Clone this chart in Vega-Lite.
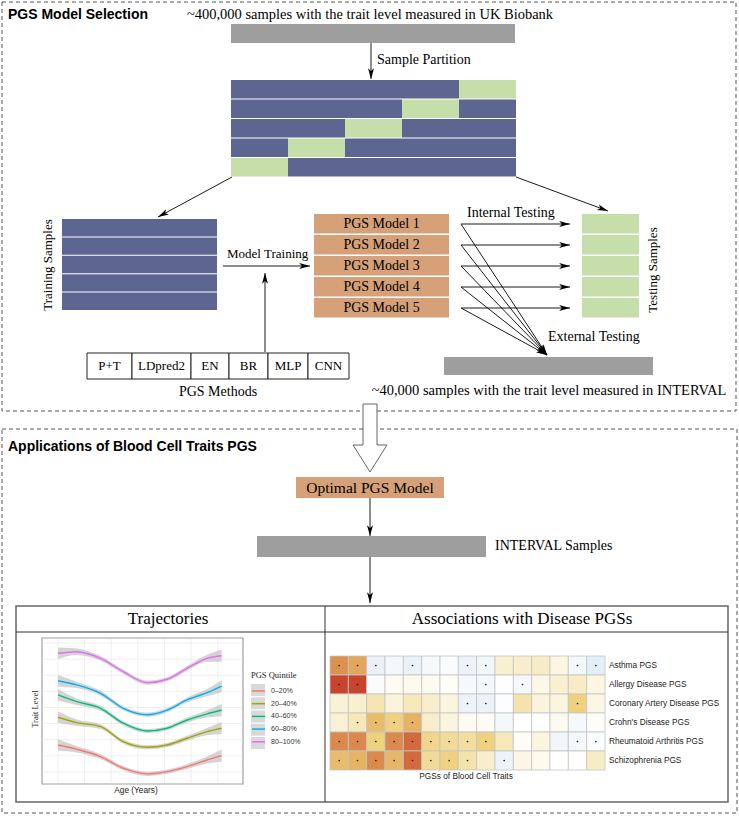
{
"$schema":"https://vega.github.io/schema/vega-lite/v6.json",
"width":739,"height":817,"padding":0,"autosize":{"type":"none"},
"background":"white",
"config":{"view":{"stroke":null}},
"datasets":{
"dash":[{"x":2,"x2":736,"y":2,"y2":411},{"x":2,"x2":737,"y":429,"y2":813}],
"box":[
{"x":231,"x2":515,"y":24,"y2":43,"k":"grey"},
{"x":444,"x2":653,"y":357,"y2":375,"k":"grey"},
{"x":257,"x2":486,"y":536,"y2":557,"k":"grey"},
{"x":231,"x2":459,"y":80,"y2":98.5,"k":"navy"},
{"x":459,"x2":516,"y":80,"y2":98.5,"k":"green"},
{"x":231,"x2":402,"y":99.5,"y2":118,"k":"navy"},
{"x":402,"x2":459,"y":99.5,"y2":118,"k":"green"},
{"x":459,"x2":516,"y":99.5,"y2":118,"k":"navy"},
{"x":231,"x2":345,"y":119,"y2":137.5,"k":"navy"},
{"x":345,"x2":402,"y":119,"y2":137.5,"k":"green"},
{"x":402,"x2":516,"y":119,"y2":137.5,"k":"navy"},
{"x":231,"x2":288,"y":138.5,"y2":157,"k":"navy"},
{"x":288,"x2":345,"y":138.5,"y2":157,"k":"green"},
{"x":345,"x2":516,"y":138.5,"y2":157,"k":"navy"},
{"x":231,"x2":288,"y":158,"y2":176.5,"k":"green"},
{"x":288,"x2":516,"y":158,"y2":176.5,"k":"navy"},
{"x":62,"x2":217,"y":219,"y2":236.4,"k":"navy"},
{"x":62,"x2":217,"y":237.4,"y2":254.8,"k":"navy"},
{"x":62,"x2":217,"y":255.8,"y2":273.2,"k":"navy"},
{"x":62,"x2":217,"y":274.2,"y2":291.6,"k":"navy"},
{"x":62,"x2":217,"y":292.6,"y2":310,"k":"navy"},
{"x":314,"x2":449,"y":214,"y2":233.5,"k":"tan"},
{"x":314,"x2":449,"y":235,"y2":254.5,"k":"tan"},
{"x":314,"x2":449,"y":256,"y2":275.5,"k":"tan"},
{"x":314,"x2":449,"y":277,"y2":296.5,"k":"tan"},
{"x":314,"x2":449,"y":298,"y2":317.5,"k":"tan"},
{"x":582,"x2":639,"y":214,"y2":233.5,"k":"green"},
{"x":582,"x2":639,"y":235,"y2":254.5,"k":"green"},
{"x":582,"x2":639,"y":256,"y2":275.5,"k":"green"},
{"x":582,"x2":639,"y":277,"y2":296.5,"k":"green"},
{"x":582,"x2":639,"y":298,"y2":317.5,"k":"green"},
{"x":296,"x2":444,"y":477,"y2":498,"k":"tan"}
],
"keys":[
{"x":251,"x2":265,"y":684,"y2":696},
{"x":251,"x2":265,"y":697.3,"y2":709.3},
{"x":251,"x2":265,"y":710.5,"y2":722.5},
{"x":251,"x2":265,"y":723.7,"y2":735.7},
{"x":251,"x2":265,"y":737,"y2":749}
],
"cells":[
{"x":87,"x2":132,"y":353,"y2":379},{"x":132,"x2":191,"y":353,"y2":379},{"x":191,"x2":229,"y":353,"y2":379},
{"x":229,"x2":268,"y":353,"y2":379},{"x":268,"x2":308,"y":353,"y2":379},{"x":308,"x2":349,"y":353,"y2":379}
],
"panel":[{"x":16,"x2":728,"y":606,"y2":802}],
"tpanel":[{"x":42,"x2":243,"y":638,"y2":784}],
"lines":[{"x":16,"y":632,"x2":728,"y2":632},{"x":325,"y":606,"x2":325,"y2":802}],
"arr":[
{"x":371,"y":43,"x2":371,"y2":79},
{"x":232,"y":177,"x2":158,"y2":217},
{"x":516,"y":177,"x2":608,"y2":211},
{"x":223,"y":266,"x2":310,"y2":266},
{"x":265,"y":352,"x2":265,"y2":273},
{"x":461,"y":224,"x2":570,"y2":224},
{"x":461,"y":245,"x2":570,"y2":245},
{"x":461,"y":266,"x2":570,"y2":266},
{"x":461,"y":287,"x2":570,"y2":287},
{"x":461,"y":308,"x2":570,"y2":308},
{"x":461,"y":224,"x2":547,"y2":355},
{"x":461,"y":245,"x2":547,"y2":355},
{"x":461,"y":266,"x2":547,"y2":355},
{"x":461,"y":287,"x2":547,"y2":355},
{"x":461,"y":308,"x2":547,"y2":355},
{"x":370,"y":498,"x2":370,"y2":536},
{"x":370,"y":557,"x2":370,"y2":603}
],
"blk":[
{"x":363,"y":404,"o":0},{"x":377,"y":404,"o":1},{"x":377,"y":445,"o":2},{"x":387,"y":445,"o":3},
{"x":370,"y":472,"o":4},{"x":353,"y":445,"o":5},{"x":363,"y":445,"o":6},{"x":363,"y":404,"o":7}
],
"txt":[
{"x":8,"y":15,"text":"PGS Model Selection","s":"title"},
{"x":8,"y":447,"text":"Applications of Blood Cell Traits PGS","s":"title"},
{"x":370,"y":15,"text":"~400,000 samples with the trait level measured in UK Biobank","s":"cap"},
{"x":549,"y":391,"text":"~40,000 samples with the trait level measured in INTERVAL","s":"cap"},
{"x":377,"y":60,"text":"Sample Partition","s":"l14"},
{"x":467,"y":213,"text":"Internal Testing","s":"l14"},
{"x":548,"y":337,"text":"External Testing","s":"l14"},
{"x":495,"y":546,"text":"INTERVAL Samples","s":"l14"},
{"x":227,"y":254,"text":"Model Training","s":"mt"},
{"x":381.5,"y":224,"text":"PGS Model 1","s":"c14"},
{"x":381.5,"y":245,"text":"PGS Model 2","s":"c14"},
{"x":381.5,"y":266,"text":"PGS Model 3","s":"c14"},
{"x":381.5,"y":287,"text":"PGS Model 4","s":"c14"},
{"x":381.5,"y":308,"text":"PGS Model 5","s":"c14"},
{"x":218,"y":392,"text":"PGS Methods","s":"c14"},
{"x":48,"y":265,"text":"Training Samples","s":"rot"},
{"x":653,"y":270,"text":"Testing Samples","s":"rot"},
{"x":109.5,"y":366,"text":"P+T","s":"cell"},
{"x":161.5,"y":366,"text":"LDpred2","s":"cell"},
{"x":210,"y":366,"text":"EN","s":"cell"},
{"x":248.5,"y":366,"text":"BR","s":"cell"},
{"x":288,"y":366,"text":"MLP","s":"cell"},
{"x":328.5,"y":366,"text":"CNN","s":"cell"},
{"x":370,"y":488,"text":"Optimal PGS Model","s":"opt"},
{"x":168,"y":619,"text":"Trajectories","s":"head"},
{"x":522,"y":619,"text":"Associations with Disease PGSs","s":"head"},
{"x":609,"y":665.5,"text":"Asthma PGS","s":"hl"},
{"x":609,"y":684.5,"text":"Allergy Disease PGS","s":"hl"},
{"x":609,"y":703.5,"text":"Coronary Artery Disease PGS","s":"hl"},
{"x":609,"y":722.5,"text":"Crohn's Disease PGS","s":"hl"},
{"x":609,"y":741.5,"text":"Rheumatoid Arthritis PGS","s":"hl"},
{"x":609,"y":760.5,"text":"Schizophrenia PGS","s":"hl"},
{"x":466,"y":776.5,"text":"PGSs of Blood Cell Traits","s":"hc"},
{"x":136,"y":791,"text":"Age (Years)","s":"hc"},
{"x":35,"y":709,"text":"Trait Level","s":"tl"}
],
"gx":[{"age":20},{"age":30},{"age":40},{"age":50},{"age":60},{"age":70},{"age":80}],
"gy":[{"level":1},{"level":2},{"level":3},{"level":4},{"level":5},{"level":6},{"level":7},{"level":8},{"level":9}],
"traj":[
{"q":"80–100%","age":20,"level":8.36,"lo":8.00,"hi":8.72},
{"q":"80–100%","age":27,"level":8.46,"lo":8.26,"hi":8.66},
{"q":"80–100%","age":36,"level":8.05,"lo":7.90,"hi":8.20},
{"q":"80–100%","age":44.5,"level":7.22,"lo":7.09,"hi":7.35},
{"q":"80–100%","age":53.5,"level":6.54,"lo":6.41,"hi":6.67},
{"q":"80–100%","age":61,"level":6.75,"lo":6.62,"hi":6.88},
{"q":"80–100%","age":68.5,"level":7.43,"lo":7.28,"hi":7.58},
{"q":"80–100%","age":76,"level":8.05,"lo":7.83,"hi":8.27},
{"q":"80–100%","age":81.5,"level":8.21,"lo":7.83,"hi":8.59},
{"q":"60–80%","age":20,"level":6.66,"lo":6.30,"hi":7.02},
{"q":"60–80%","age":27,"level":6.40,"lo":6.20,"hi":6.60},
{"q":"60–80%","age":36,"level":5.88,"lo":5.73,"hi":6.03},
{"q":"60–80%","age":44.5,"level":4.95,"lo":4.82,"hi":5.08},
{"q":"60–80%","age":53.5,"level":4.55,"lo":4.42,"hi":4.68},
{"q":"60–80%","age":61,"level":4.84,"lo":4.71,"hi":4.97},
{"q":"60–80%","age":68.5,"level":5.47,"lo":5.32,"hi":5.62},
{"q":"60–80%","age":76,"level":5.92,"lo":5.70,"hi":6.14},
{"q":"60–80%","age":81.5,"level":6.33,"lo":5.95,"hi":6.71},
{"q":"40–60%","age":20,"level":5.78,"lo":5.42,"hi":6.14},
{"q":"40–60%","age":27,"level":5.36,"lo":5.16,"hi":5.56},
{"q":"40–60%","age":36,"level":4.95,"lo":4.80,"hi":5.10},
{"q":"40–60%","age":44.5,"level":4.02,"lo":3.89,"hi":4.15},
{"q":"40–60%","age":53.5,"level":3.54,"lo":3.41,"hi":3.67},
{"q":"40–60%","age":61,"level":3.71,"lo":3.58,"hi":3.84},
{"q":"40–60%","age":68.5,"level":4.22,"lo":4.07,"hi":4.37},
{"q":"40–60%","age":76,"level":4.60,"lo":4.38,"hi":4.82},
{"q":"40–60%","age":81.5,"level":4.84,"lo":4.46,"hi":5.22},
{"q":"20–40%","age":20,"level":4.39,"lo":4.03,"hi":4.75},
{"q":"20–40%","age":27,"level":4.06,"lo":3.86,"hi":4.26},
{"q":"20–40%","age":36,"level":3.81,"lo":3.66,"hi":3.96},
{"q":"20–40%","age":44.5,"level":2.88,"lo":2.75,"hi":3.01},
{"q":"20–40%","age":53.5,"level":2.53,"lo":2.40,"hi":2.66},
{"q":"20–40%","age":61,"level":2.67,"lo":2.54,"hi":2.80},
{"q":"20–40%","age":68.5,"level":3.09,"lo":2.94,"hi":3.24},
{"q":"20–40%","age":76,"level":3.50,"lo":3.28,"hi":3.72},
{"q":"20–40%","age":81.5,"level":3.71,"lo":3.33,"hi":4.09},
{"q":"0–20%","age":20,"level":2.67,"lo":2.31,"hi":3.03},
{"q":"0–20%","age":27,"level":2.41,"lo":2.21,"hi":2.61},
{"q":"0–20%","age":36,"level":1.95,"lo":1.80,"hi":2.10},
{"q":"0–20%","age":44.5,"level":1.23,"lo":1.10,"hi":1.36},
{"q":"0–20%","age":53.5,"level":0.88,"lo":0.75,"hi":1.01},
{"q":"0–20%","age":61,"level":1.02,"lo":0.89,"hi":1.15},
{"q":"0–20%","age":68.5,"level":1.33,"lo":1.18,"hi":1.48},
{"q":"0–20%","age":76,"level":1.74,"lo":1.52,"hi":1.96},
{"q":"0–20%","age":81.5,"level":2.01,"lo":1.63,"hi":2.39}
],
"heat":[
{"t":1,"d":"Asthma PGS","v":0.75,"s":1},{"t":2,"d":"Asthma PGS","v":0.65,"s":1},{"t":3,"d":"Asthma PGS","v":-0.35,"s":1},{"t":4,"d":"Asthma PGS","v":-0.2,"s":0},{"t":5,"d":"Asthma PGS","v":-0.35,"s":1},{"t":6,"d":"Asthma PGS","v":-0.15,"s":0},{"t":7,"d":"Asthma PGS","v":-0.1,"s":0},{"t":8,"d":"Asthma PGS","v":-0.3,"s":1},{"t":9,"d":"Asthma PGS","v":-0.25,"s":1},{"t":10,"d":"Asthma PGS","v":0.2,"s":0},{"t":11,"d":"Asthma PGS","v":0.22,"s":0},{"t":12,"d":"Asthma PGS","v":0.25,"s":0},{"t":13,"d":"Asthma PGS","v":0.12,"s":0},{"t":14,"d":"Asthma PGS","v":-0.2,"s":1},{"t":15,"d":"Asthma PGS","v":-0.45,"s":1},
{"t":1,"d":"Allergy Disease PGS","v":1.0,"s":1},{"t":2,"d":"Allergy Disease PGS","v":1.0,"s":1},{"t":3,"d":"Allergy Disease PGS","v":-0.1,"s":0},{"t":4,"d":"Allergy Disease PGS","v":0.05,"s":0},{"t":5,"d":"Allergy Disease PGS","v":0.08,"s":0},{"t":6,"d":"Allergy Disease PGS","v":0.06,"s":0},{"t":7,"d":"Allergy Disease PGS","v":0.03,"s":0},{"t":8,"d":"Allergy Disease PGS","v":-0.15,"s":0},{"t":9,"d":"Allergy Disease PGS","v":-0.2,"s":1},{"t":10,"d":"Allergy Disease PGS","v":0,"s":0},{"t":11,"d":"Allergy Disease PGS","v":-0.15,"s":1},{"t":12,"d":"Allergy Disease PGS","v":0.1,"s":0},{"t":13,"d":"Allergy Disease PGS","v":0.2,"s":0},{"t":14,"d":"Allergy Disease PGS","v":0.25,"s":0},{"t":15,"d":"Allergy Disease PGS","v":0.12,"s":0},
{"t":1,"d":"Coronary Artery Disease PGS","v":0.17,"s":0},{"t":2,"d":"Coronary Artery Disease PGS","v":0.2,"s":0},{"t":3,"d":"Coronary Artery Disease PGS","v":0.3,"s":0},{"t":4,"d":"Coronary Artery Disease PGS","v":0.15,"s":0},{"t":5,"d":"Coronary Artery Disease PGS","v":0.28,"s":0},{"t":6,"d":"Coronary Artery Disease PGS","v":0.22,"s":0},{"t":7,"d":"Coronary Artery Disease PGS","v":0.13,"s":0},{"t":8,"d":"Coronary Artery Disease PGS","v":-0.3,"s":1},{"t":9,"d":"Coronary Artery Disease PGS","v":-0.3,"s":1},{"t":10,"d":"Coronary Artery Disease PGS","v":-0.05,"s":0},{"t":11,"d":"Coronary Artery Disease PGS","v":0.32,"s":0},{"t":12,"d":"Coronary Artery Disease PGS","v":0.15,"s":0},{"t":13,"d":"Coronary Artery Disease PGS","v":0.14,"s":0},{"t":14,"d":"Coronary Artery Disease PGS","v":0.45,"s":1},{"t":15,"d":"Coronary Artery Disease PGS","v":0.11,"s":0},
{"t":1,"d":"Crohn's Disease PGS","v":0.18,"s":0},{"t":2,"d":"Crohn's Disease PGS","v":0.28,"s":1},{"t":3,"d":"Crohn's Disease PGS","v":0.55,"s":1},{"t":4,"d":"Crohn's Disease PGS","v":0.45,"s":1},{"t":5,"d":"Crohn's Disease PGS","v":0.6,"s":1},{"t":6,"d":"Crohn's Disease PGS","v":0.22,"s":0},{"t":7,"d":"Crohn's Disease PGS","v":0.13,"s":0},{"t":8,"d":"Crohn's Disease PGS","v":0.05,"s":0},{"t":9,"d":"Crohn's Disease PGS","v":0.04,"s":0},{"t":10,"d":"Crohn's Disease PGS","v":-0.2,"s":0},{"t":11,"d":"Crohn's Disease PGS","v":0,"s":0},{"t":12,"d":"Crohn's Disease PGS","v":0,"s":0},{"t":13,"d":"Crohn's Disease PGS","v":0.06,"s":0},{"t":14,"d":"Crohn's Disease PGS","v":-0.15,"s":0},{"t":15,"d":"Crohn's Disease PGS","v":0.03,"s":0},
{"t":1,"d":"Rheumatoid Arthritis PGS","v":0.78,"s":1},{"t":2,"d":"Rheumatoid Arthritis PGS","v":0.78,"s":1},{"t":3,"d":"Rheumatoid Arthritis PGS","v":0.45,"s":1},{"t":4,"d":"Rheumatoid Arthritis PGS","v":0.78,"s":1},{"t":5,"d":"Rheumatoid Arthritis PGS","v":0.88,"s":1},{"t":6,"d":"Rheumatoid Arthritis PGS","v":0.42,"s":1},{"t":7,"d":"Rheumatoid Arthritis PGS","v":0.38,"s":1},{"t":8,"d":"Rheumatoid Arthritis PGS","v":0.36,"s":1},{"t":9,"d":"Rheumatoid Arthritis PGS","v":0.45,"s":1},{"t":10,"d":"Rheumatoid Arthritis PGS","v":0.28,"s":0},{"t":11,"d":"Rheumatoid Arthritis PGS","v":0.03,"s":0},{"t":12,"d":"Rheumatoid Arthritis PGS","v":0.13,"s":0},{"t":13,"d":"Rheumatoid Arthritis PGS","v":-0.25,"s":0},{"t":14,"d":"Rheumatoid Arthritis PGS","v":-0.2,"s":1},{"t":15,"d":"Rheumatoid Arthritis PGS","v":-0.08,"s":1},
{"t":1,"d":"Schizophrenia PGS","v":0.55,"s":1},{"t":2,"d":"Schizophrenia PGS","v":0.6,"s":1},{"t":3,"d":"Schizophrenia PGS","v":0.78,"s":1},{"t":4,"d":"Schizophrenia PGS","v":0.58,"s":1},{"t":5,"d":"Schizophrenia PGS","v":0.88,"s":1},{"t":6,"d":"Schizophrenia PGS","v":0.38,"s":1},{"t":7,"d":"Schizophrenia PGS","v":0.45,"s":1},{"t":8,"d":"Schizophrenia PGS","v":0.32,"s":1},{"t":9,"d":"Schizophrenia PGS","v":0.22,"s":0},{"t":10,"d":"Schizophrenia PGS","v":-0.3,"s":1},{"t":11,"d":"Schizophrenia PGS","v":0.11,"s":0},{"t":12,"d":"Schizophrenia PGS","v":0.08,"s":0},{"t":13,"d":"Schizophrenia PGS","v":0,"s":0},{"t":14,"d":"Schizophrenia PGS","v":0.01,"s":0},{"t":15,"d":"Schizophrenia PGS","v":0.25,"s":0}
]
},
"layer":[
{"layer":[
 {"data":{"name":"dash"},"mark":{"type":"rect","filled":false,"stroke":"#555555","strokeWidth":1,"strokeDash":[4,3]},
  "encoding":{"x":{"field":"x","type":"quantitative","scale":{"domain":[0,739],"range":[0,739],"nice":false,"zero":false},"axis":null},"x2":{"field":"x2"},
   "y":{"field":"y","type":"quantitative","scale":{"domain":[0,817],"range":[0,817],"nice":false,"zero":false},"axis":null},"y2":{"field":"y2"}}},
 {"data":{"name":"box"},"mark":{"type":"rect","strokeWidth":0},
  "encoding":{"x":{"field":"x","type":"quantitative","scale":{"domain":[0,739],"range":[0,739],"nice":false,"zero":false},"axis":null},"x2":{"field":"x2"},
   "y":{"field":"y","type":"quantitative","scale":{"domain":[0,817],"range":[0,817],"nice":false,"zero":false},"axis":null},"y2":{"field":"y2"},
   "color":{"field":"k","type":"nominal","scale":{"domain":["grey","navy","green","tan"],"range":["#9E9E9E","#5D6690","#C6DEA9","#D6A078"]},"legend":null}}},
 {"data":{"name":"cells"},"mark":{"type":"rect","fill":"white","stroke":"#222222","strokeWidth":1},
  "encoding":{"x":{"field":"x","type":"quantitative","scale":{"domain":[0,739],"range":[0,739],"nice":false,"zero":false},"axis":null},"x2":{"field":"x2"},
   "y":{"field":"y","type":"quantitative","scale":{"domain":[0,817],"range":[0,817],"nice":false,"zero":false},"axis":null},"y2":{"field":"y2"}}},
 {"data":{"name":"panel"},"mark":{"type":"rect","filled":false,"stroke":"#666666","strokeWidth":1.5},
  "encoding":{"x":{"field":"x","type":"quantitative","scale":{"domain":[0,739],"range":[0,739],"nice":false,"zero":false},"axis":null},"x2":{"field":"x2"},
   "y":{"field":"y","type":"quantitative","scale":{"domain":[0,817],"range":[0,817],"nice":false,"zero":false},"axis":null},"y2":{"field":"y2"}}},
 {"data":{"name":"tpanel"},"mark":{"type":"rect","fill":"white","stroke":"#A0A0A0","strokeWidth":1.2},
  "encoding":{"x":{"field":"x","type":"quantitative","scale":{"domain":[0,739],"range":[0,739],"nice":false,"zero":false},"axis":null},"x2":{"field":"x2"},
   "y":{"field":"y","type":"quantitative","scale":{"domain":[0,817],"range":[0,817],"nice":false,"zero":false},"axis":null},"y2":{"field":"y2"}}},
 {"data":{"name":"keys"},"mark":{"type":"rect","fill":"#D9D9D9","strokeWidth":0},
  "encoding":{"x":{"field":"x","type":"quantitative","scale":{"domain":[0,739],"range":[0,739],"nice":false,"zero":false},"axis":null},"x2":{"field":"x2"},
   "y":{"field":"y","type":"quantitative","scale":{"domain":[0,817],"range":[0,817],"nice":false,"zero":false},"axis":null},"y2":{"field":"y2"}}},
 {"data":{"name":"lines"},"mark":{"type":"rule","stroke":"#333333","strokeWidth":1},
  "encoding":{"x":{"field":"x","type":"quantitative","scale":{"domain":[0,739],"range":[0,739],"nice":false,"zero":false},"axis":null},"x2":{"field":"x2"},
   "y":{"field":"y","type":"quantitative","scale":{"domain":[0,817],"range":[0,817],"nice":false,"zero":false},"axis":null},"y2":{"field":"y2"}}},
 {"data":{"name":"arr"},"mark":{"type":"rule","stroke":"black","strokeWidth":0.9},
  "encoding":{"x":{"field":"x","type":"quantitative","scale":{"domain":[0,739],"range":[0,739],"nice":false,"zero":false},"axis":null},"x2":{"field":"x2"},
   "y":{"field":"y","type":"quantitative","scale":{"domain":[0,817],"range":[0,817],"nice":false,"zero":false},"axis":null},"y2":{"field":"y2"}}},
 {"data":{"name":"arr"},"transform":[{"calculate":"(atan2(datum.x2-datum.x, datum.y-datum.y2)*180/PI+360)%360","as":"ang"}],
  "mark":{"type":"point","shape":"M0,0L-0.5,1.8L0,1.35L0.5,1.8Z","filled":true,"color":"black","opacity":1,"size":144,"strokeWidth":0},
  "encoding":{"x":{"field":"x2","type":"quantitative","scale":{"domain":[0,739],"range":[0,739],"nice":false,"zero":false},"axis":null},
   "y":{"field":"y2","type":"quantitative","scale":{"domain":[0,817],"range":[0,817],"nice":false,"zero":false},"axis":null},
   "angle":{"field":"ang","type":"quantitative","scale":null}}},
 {"data":{"name":"blk"},"mark":{"type":"line","fill":"white","stroke":"#666666","strokeWidth":1},
  "encoding":{"x":{"field":"x","type":"quantitative","scale":{"domain":[0,739],"range":[0,739],"nice":false,"zero":false},"axis":null},
   "y":{"field":"y","type":"quantitative","scale":{"domain":[0,817],"range":[0,817],"nice":false,"zero":false},"axis":null},
   "order":{"field":"o","type":"quantitative"}}},
 {"data":{"name":"txt"},"transform":[{"filter":"datum.s==='title'"}],
  "mark":{"type":"text","align":"left","baseline":"middle","font":"Liberation Sans","fontWeight":"bold","fontSize":14,"color":"black"},
  "encoding":{"x":{"field":"x","type":"quantitative","scale":{"domain":[0,739],"range":[0,739],"nice":false,"zero":false},"axis":null},
   "y":{"field":"y","type":"quantitative","scale":{"domain":[0,817],"range":[0,817],"nice":false,"zero":false},"axis":null},"text":{"field":"text"}}},
 {"data":{"name":"txt"},"transform":[{"filter":"datum.s==='cap'"}],
  "mark":{"type":"text","align":"center","baseline":"middle","font":"Liberation Serif","fontSize":14.5,"color":"black"},
  "encoding":{"x":{"field":"x","type":"quantitative","scale":{"domain":[0,739],"range":[0,739],"nice":false,"zero":false},"axis":null},
   "y":{"field":"y","type":"quantitative","scale":{"domain":[0,817],"range":[0,817],"nice":false,"zero":false},"axis":null},"text":{"field":"text"}}},
 {"data":{"name":"txt"},"transform":[{"filter":"datum.s==='c14'"}],
  "mark":{"type":"text","align":"center","baseline":"middle","font":"Liberation Serif","fontSize":14,"color":"black"},
  "encoding":{"x":{"field":"x","type":"quantitative","scale":{"domain":[0,739],"range":[0,739],"nice":false,"zero":false},"axis":null},
   "y":{"field":"y","type":"quantitative","scale":{"domain":[0,817],"range":[0,817],"nice":false,"zero":false},"axis":null},"text":{"field":"text"}}},
 {"data":{"name":"txt"},"transform":[{"filter":"datum.s==='l14'"}],
  "mark":{"type":"text","align":"left","baseline":"middle","font":"Liberation Serif","fontSize":14,"color":"black"},
  "encoding":{"x":{"field":"x","type":"quantitative","scale":{"domain":[0,739],"range":[0,739],"nice":false,"zero":false},"axis":null},
   "y":{"field":"y","type":"quantitative","scale":{"domain":[0,817],"range":[0,817],"nice":false,"zero":false},"axis":null},"text":{"field":"text"}}},
 {"data":{"name":"txt"},"transform":[{"filter":"datum.s==='mt'"}],
  "mark":{"type":"text","align":"left","baseline":"middle","font":"Liberation Serif","fontSize":13,"color":"black"},
  "encoding":{"x":{"field":"x","type":"quantitative","scale":{"domain":[0,739],"range":[0,739],"nice":false,"zero":false},"axis":null},
   "y":{"field":"y","type":"quantitative","scale":{"domain":[0,817],"range":[0,817],"nice":false,"zero":false},"axis":null},"text":{"field":"text"}}},
 {"data":{"name":"txt"},"transform":[{"filter":"datum.s==='rot'"}],
  "mark":{"type":"text","align":"center","baseline":"middle","angle":270,"font":"Liberation Serif","fontSize":13,"color":"black"},
  "encoding":{"x":{"field":"x","type":"quantitative","scale":{"domain":[0,739],"range":[0,739],"nice":false,"zero":false},"axis":null},
   "y":{"field":"y","type":"quantitative","scale":{"domain":[0,817],"range":[0,817],"nice":false,"zero":false},"axis":null},"text":{"field":"text"}}},
 {"data":{"name":"txt"},"transform":[{"filter":"datum.s==='cell'"}],
  "mark":{"type":"text","align":"center","baseline":"middle","font":"Liberation Serif","fontSize":13,"color":"black"},
  "encoding":{"x":{"field":"x","type":"quantitative","scale":{"domain":[0,739],"range":[0,739],"nice":false,"zero":false},"axis":null},
   "y":{"field":"y","type":"quantitative","scale":{"domain":[0,817],"range":[0,817],"nice":false,"zero":false},"axis":null},"text":{"field":"text"}}},
 {"data":{"name":"txt"},"transform":[{"filter":"datum.s==='opt'"}],
  "mark":{"type":"text","align":"center","baseline":"middle","font":"Liberation Serif","fontSize":15.5,"color":"black"},
  "encoding":{"x":{"field":"x","type":"quantitative","scale":{"domain":[0,739],"range":[0,739],"nice":false,"zero":false},"axis":null},
   "y":{"field":"y","type":"quantitative","scale":{"domain":[0,817],"range":[0,817],"nice":false,"zero":false},"axis":null},"text":{"field":"text"}}},
 {"data":{"name":"txt"},"transform":[{"filter":"datum.s==='head'"}],
  "mark":{"type":"text","align":"center","baseline":"middle","font":"Liberation Serif","fontSize":17,"color":"black"},
  "encoding":{"x":{"field":"x","type":"quantitative","scale":{"domain":[0,739],"range":[0,739],"nice":false,"zero":false},"axis":null},
   "y":{"field":"y","type":"quantitative","scale":{"domain":[0,817],"range":[0,817],"nice":false,"zero":false},"axis":null},"text":{"field":"text"}}},
 {"data":{"name":"txt"},"transform":[{"filter":"datum.s==='hl'"}],
  "mark":{"type":"text","align":"left","baseline":"middle","font":"Liberation Sans","fontSize":8.3,"color":"#222222"},
  "encoding":{"x":{"field":"x","type":"quantitative","scale":{"domain":[0,739],"range":[0,739],"nice":false,"zero":false},"axis":null},
   "y":{"field":"y","type":"quantitative","scale":{"domain":[0,817],"range":[0,817],"nice":false,"zero":false},"axis":null},"text":{"field":"text"}}},
 {"data":{"name":"txt"},"transform":[{"filter":"datum.s==='hc'"}],
  "mark":{"type":"text","align":"center","baseline":"middle","font":"Liberation Sans","fontSize":8.3,"color":"#222222"},
  "encoding":{"x":{"field":"x","type":"quantitative","scale":{"domain":[0,739],"range":[0,739],"nice":false,"zero":false},"axis":null},
   "y":{"field":"y","type":"quantitative","scale":{"domain":[0,817],"range":[0,817],"nice":false,"zero":false},"axis":null},"text":{"field":"text"}}},
 {"data":{"name":"txt"},"transform":[{"filter":"datum.s==='tl'"}],
  "mark":{"type":"text","align":"center","baseline":"middle","angle":270,"font":"Liberation Serif","fontSize":8.5,"color":"#222222"},
  "encoding":{"x":{"field":"x","type":"quantitative","scale":{"domain":[0,739],"range":[0,739],"nice":false,"zero":false},"axis":null},
   "y":{"field":"y","type":"quantitative","scale":{"domain":[0,817],"range":[0,817],"nice":false,"zero":false},"axis":null},"text":{"field":"text"}}}
]},
{"layer":[
 {"data":{"name":"heat"},"mark":{"type":"rect","stroke":"#C4C4C4","strokeWidth":0.8},
  "encoding":{
   "x":{"field":"t","type":"ordinal","scale":{"type":"band","range":[330,605],"padding":0},"axis":null},
   "y":{"field":"d","type":"nominal","sort":["Asthma PGS","Allergy Disease PGS","Coronary Artery Disease PGS","Crohn's Disease PGS","Rheumatoid Arthritis PGS","Schizophrenia PGS"],
        "scale":{"type":"band","range":[656,770],"padding":0},"axis":null},
   "color":{"field":"v","type":"quantitative","scale":{"domain":[-1,0,0.25,0.45,0.6,0.78,1],"range":["#C2DAEA","#FFFFFF","#F8ECC4","#EFD180","#E6B264","#D98A4C","#C8452D"],"interpolate":"rgb"},"legend":null}}},
 {"data":{"name":"heat"},"transform":[{"filter":"datum.s===1"}],"mark":{"type":"point","filled":true,"color":"#222222","size":3,"opacity":1,"strokeWidth":0},
  "encoding":{
   "x":{"field":"t","type":"ordinal","scale":{"type":"band","range":[330,605],"padding":0},"axis":null},
   "y":{"field":"d","type":"nominal","sort":["Asthma PGS","Allergy Disease PGS","Coronary Artery Disease PGS","Crohn's Disease PGS","Rheumatoid Arthritis PGS","Schizophrenia PGS"],"scale":{"type":"band","range":[656,770],"padding":0},"axis":null}}}
]},
{"layer":[
 {"data":{"name":"gx"},"mark":{"type":"rule","stroke":"#EBEBEB","strokeWidth":0.8},
  "encoding":{
   "x":{"field":"age","type":"quantitative","scale":{"domain":[14,89.5],"range":[42,243],"nice":false,"zero":false},"axis":null},
   "y":{"datum":0.3,"type":"quantitative","scale":{"domain":[0.25,9.31],"range":[784,638],"nice":false,"zero":false},"axis":null},
   "y2":{"datum":9.26}}},
 {"data":{"name":"gy"},"mark":{"type":"rule","stroke":"#EBEBEB","strokeWidth":0.8},
  "encoding":{
   "y":{"field":"level","type":"quantitative","scale":{"domain":[0.25,9.31],"range":[784,638],"nice":false,"zero":false},"axis":null},
   "x":{"datum":14.2,"type":"quantitative","scale":{"domain":[14,89.5],"range":[42,243],"nice":false,"zero":false},"axis":null},
   "x2":{"datum":89.3}}},
 {"data":{"name":"traj"},"mark":{"type":"area","fill":"#BDBDBD","opacity":0.65,"interpolate":"monotone"},
  "encoding":{
   "x":{"field":"age","type":"quantitative","scale":{"domain":[14,89.5],"range":[42,243],"nice":false,"zero":false},"axis":null},
   "y":{"field":"lo","type":"quantitative","scale":{"domain":[0.25,9.31],"range":[784,638],"nice":false,"zero":false},"axis":null},
   "y2":{"field":"hi"},
   "detail":{"field":"q","type":"nominal"}}},
 {"data":{"name":"traj"},"mark":{"type":"line","strokeWidth":1.4,"interpolate":"monotone"},
  "encoding":{
   "x":{"field":"age","type":"quantitative","scale":{"domain":[14,89.5],"range":[42,243],"nice":false,"zero":false},"axis":null},
   "y":{"field":"level","type":"quantitative","scale":{"domain":[0.25,9.31],"range":[784,638],"nice":false,"zero":false},"axis":null},
   "color":{"field":"q","type":"nominal","scale":{"domain":["0–20%","20–40%","40–60%","60–80%","80–100%"],"range":["#F8766D","#A3A500","#00BF7D","#00B0F6","#E76BF3"]},
     "legend":{"orient":"none","legendX":251,"legendY":671,"title":"PGS Quintile","titleFont":"Liberation Serif","titleFontSize":8.5,"titleFontWeight":"normal","titleColor":"#222222","titlePadding":4,
       "labelFont":"Liberation Sans","labelFontSize":7,"labelColor":"#333333","symbolType":"stroke","symbolStrokeWidth":1.5,"symbolSize":170,"rowPadding":1.7,"labelOffset":5,"padding":0}}}}
]}
],
"resolve":{"scale":{"x":"independent","y":"independent","color":"independent"},"axis":{"x":"independent","y":"independent"},"legend":{"color":"independent"}}
}
